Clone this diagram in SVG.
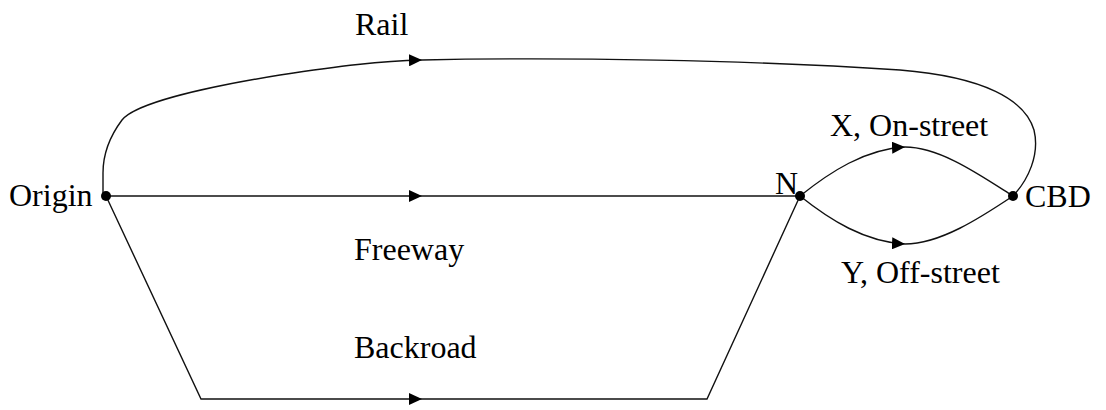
<svg xmlns="http://www.w3.org/2000/svg" width="1106" height="410" viewBox="0 0 1106 410">
  <defs>
    <!-- filled triangular arrowhead placed at the end of a segment -->
    <marker id="arrow" markerWidth="13" markerHeight="12" refX="13" refY="6" orient="auto" markerUnits="userSpaceOnUse">
      <path d="M0,0 L13,6 L0,12 Z" fill="#000"/>
    </marker>
  </defs>
  <style>
    .edge { fill: none; stroke: #111; stroke-width: 1.4; }
    .node { fill: #000; }
    text { font-family: "Liberation Serif", "DejaVu Serif", serif; font-size: 32px; fill: #000; }
  </style>

  <rect width="1106" height="410" fill="#fff"/>

  <g id="connectors">
    <!-- Rail: Origin up and over to CBD -->
    <path class="edge" marker-end="url(#arrow)" d="M103,196 L103,173 C103,152 110,136 122,120 C135,104 200,88 280,75 C340,66 380,61 422,60"/>
    <path class="edge" d="M422,60 C560,57 750,60 900,70 C985,77 1025,100 1034,130 C1040,155 1028,180 1013,196"/>
    <!-- Freeway: Origin to N -->
    <path class="edge" marker-end="url(#arrow)" d="M106,196 L422,196"/>
    <path class="edge" d="M422,196 L800,196"/>
    <!-- Backroad: Origin down, along the bottom, up to N -->
    <path class="edge" marker-end="url(#arrow)" d="M106,196 L201,399 L422,399"/>
    <path class="edge" d="M422,399 L707,399 L800,196"/>
    <!-- X, On-street: N to CBD (upper arc) -->
    <path class="edge" marker-end="url(#arrow)" d="M800,196 C830,172 865,149 905,147"/>
    <path class="edge" d="M905,147 C940,147 980,175 1013,196"/>
    <!-- Y, Off-street: N to CBD (lower arc) -->
    <path class="edge" marker-end="url(#arrow)" d="M800,196 C830,220 865,242 905,244"/>
    <path class="edge" d="M905,244 C940,244 980,218 1013,196"/>
  </g>

  <g id="labels">
    <text x="355" y="35">Rail</text>
    <text x="354" y="260">Freeway</text>
    <text x="354" y="358">Backroad</text>
    <text x="830" y="136">X, On-street</text>
    <text x="841" y="283">Y, Off-street</text>
  </g>

  <g id="node-origin">
    <circle class="node" cx="106" cy="196" r="5"/>
    <text x="9" y="206">Origin</text>
  </g>
  <g id="node-n">
    <circle class="node" cx="800" cy="196" r="5"/>
    <text x="798" y="194" text-anchor="end">N</text>
  </g>
  <g id="node-cbd">
    <circle class="node" cx="1013" cy="196" r="5"/>
    <text x="1025" y="207">CBD</text>
  </g>
</svg>
